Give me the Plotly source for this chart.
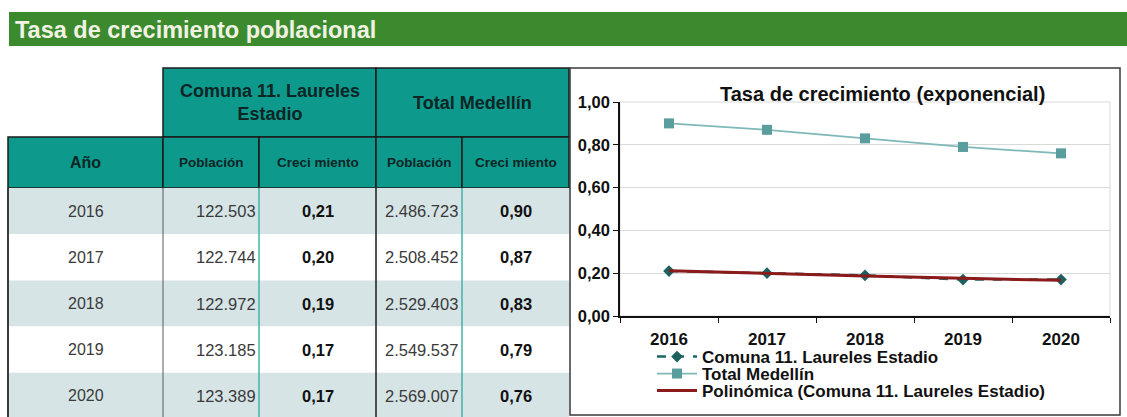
import plotly.graph_objects as go

# ---------------- data ----------------
years = ["2016", "2017", "2018", "2019", "2020"]
pob_comuna = [122503, 122744, 122972, 123185, 123389]
crec_comuna = [0.21, 0.20, 0.19, 0.17, 0.17]
pob_total = [2486723, 2508452, 2529403, 2549537, 2569007]
crec_total = [0.90, 0.87, 0.83, 0.79, 0.76]
poly_comuna = [0.211, 0.198, 0.187, 0.176, 0.167]  # trend line

page_title = "Tasa de crecimiento poblacional"
chart_title = "Tasa de crecimiento (exponencial)"
group_headers = ["Comuna 11. Laureles<br>Estadio", "Total Medellín"]
col_headers = ["Año", "Población", "Creci miento", "Población", "Creci miento"]
series_names = ["Comuna 11. Laureles Estadio", "Total Medellín",
                "Polinómica (Comuna 11. Laureles Estadio)"]

# ---------------- layout helpers ----------------
W, H = 1127, 417
FONT = "Liberation Sans, Arial, sans-serif"


def px(x):
    return x / W


def py(y):
    return 1 - y / H


def fmt_int(v):
    return f"{v:,}".replace(",", ".")


def fmt_dec(v):
    return f"{v:.2f}".replace(".", ",")


shapes = []
annotations = []


def rect(x0, y0, x1, y1, fill=None, line=None, lw=0):
    shapes.append(dict(type="rect", xref="paper", yref="paper",
                       x0=px(x0), x1=px(x1), y0=py(y1), y1=py(y0),
                       fillcolor=fill if fill else "rgba(0,0,0,0)",
                       line=dict(color=line if line else "rgba(0,0,0,0)", width=lw),
                       layer="below"))


def vline(x, y0, y1, color, lw):
    shapes.append(dict(type="line", xref="paper", yref="paper",
                       x0=px(x), x1=px(x), y0=py(y0), y1=py(y1),
                       line=dict(color=color, width=lw), layer="above"))


def text(x, y, s, size, bold=False, color="#222", xanchor="center"):
    annotations.append(dict(xref="paper", yref="paper", x=px(x), y=py(y),
                            text=s, showarrow=False, xanchor=xanchor, yanchor="middle",
                            font=dict(family=FONT, size=size, color=color,
                                      weight="bold" if bold else "normal")))


# ---------------- green page header ----------------
rect(9, 12, 1127, 46, fill="#3b8b2e")
text(13, 29.5, page_title, 23.5, bold=True, color="#f2f2e4", xanchor="left")

# ---------------- table ----------------
TEAL = "#0d998c"
HDR_TXT = "#0e2525"
col_x = [8, 163, 259, 376, 462, 569]
hdr1 = (68, 137)
hdr2 = (137, 188)
row_top = 188
row_h = 46.2

# header row 1 (merged groups)
rect(163, hdr1[0], 376, hdr1[1], fill=TEAL, line="#1b1b1b", lw=1.5)
rect(376, hdr1[0], 569, hdr1[1], fill=TEAL, line="#1b1b1b", lw=1.5)
text((163 + 376) / 2, (hdr1[0] + hdr1[1]) / 2, group_headers[0], 18, bold=True, color=HDR_TXT)
text((376 + 569) / 2, (hdr1[0] + hdr1[1]) / 2, group_headers[1], 18, bold=True, color=HDR_TXT)

# header row 2
for i, h in enumerate(col_headers):
    rect(col_x[i], hdr2[0], col_x[i + 1], hdr2[1], fill=TEAL, line="#1b1b1b", lw=1.5)
    text((col_x[i] + col_x[i + 1]) / 2, (hdr2[0] + hdr2[1]) / 2, h,
         16 if i == 0 else 13.5, bold=True, color=HDR_TXT)

# data rows
for r, yr in enumerate(years):
    y0 = row_top + r * row_h
    y1 = y0 + row_h
    yc = (y0 + y1) / 2
    fill = "#d6e4e6" if r % 2 == 0 else "#ffffff"
    rect(col_x[0], y0, col_x[-1], y1, fill=fill)
    text((col_x[0] + col_x[1]) / 2, yc, yr, 16, color="#3a3a3a")
    text(col_x[2] - 1, yc, fmt_int(pob_comuna[r]), 16.5, color="#3a3a3a", xanchor="right")
    text((col_x[2] + col_x[3]) / 2, yc, fmt_dec(crec_comuna[r]), 16.5, bold=True, color="#111111")
    text(col_x[4] - 2, yc, fmt_int(pob_total[r]), 16.5, color="#3a3a3a", xanchor="right")
    text((col_x[4] + col_x[5]) / 2, yc, fmt_dec(crec_total[r]), 16.5, bold=True, color="#111111")

table_bottom = row_top + len(years) * row_h
vline(col_x[0], row_top, table_bottom, "#3a3a3a", 2)
vline(col_x[1], row_top, table_bottom, "#5a5a5a", 1)
vline(col_x[2], row_top, table_bottom, "#3fb5a8", 1.5)
vline(col_x[3], row_top, table_bottom, "#1b1b1b", 1.5)
vline(col_x[4], row_top, table_bottom, "#3fb5a8", 1.5)

# ---------------- chart box ----------------
rect(570, 68, 1120, 415, fill="#ffffff", line="#3a3a3a", lw=1.5)
# light plot-area frame (top / right)
shapes.append(dict(type="rect", xref="paper", yref="paper",
                   x0=px(620), x1=px(1110), y0=py(316), y1=py(102),
                   line=dict(color="#d9d9d9", width=1), layer="below"))
text(882, 94, chart_title, 20, bold=True, color="#111111")

fig = go.Figure()
fig.add_trace(go.Scatter(
    x=years, y=crec_comuna, name=series_names[0], mode="lines+markers",
    line=dict(color="#1d6565", width=2.5, dash="dash"),
    marker=dict(symbol="diamond", size=9, color="#1d6060"),
    legend="legend"))
fig.add_trace(go.Scatter(
    x=years, y=crec_total, name=series_names[1], mode="lines+markers",
    line=dict(color="#7fb8b8", width=1.8),
    marker=dict(symbol="square", size=10, color="#5a9d9e"),
    legend="legend2"))
fig.add_trace(go.Scatter(
    x=years, y=poly_comuna, name=series_names[2], mode="lines",
    line=dict(color="#8b1a1a", width=3),
    legend="legend3"))

legend_font = dict(family=FONT, size=17, color="#111111", weight="bold")
legend_rows = [357, 374, 391]


def legend_at(yrow):
    return dict(x=px(652), y=py(yrow), xanchor="left", yanchor="middle",
                bgcolor="rgba(0,0,0,0)", font=legend_font, itemwidth=40,
                borderwidth=0)


fig.update_layout(
    width=W, height=H,
    margin=dict(l=0, r=0, t=0, b=0, autoexpand=False),
    paper_bgcolor="#ffffff", plot_bgcolor="rgba(0,0,0,0)",
    separators=",.",
    font=dict(family=FONT, color="#111111"),
    shapes=shapes, annotations=annotations,
    showlegend=True,
    legend=legend_at(legend_rows[0]),
    legend2=legend_at(legend_rows[1]),
    legend3=legend_at(legend_rows[2]),
    xaxis=dict(domain=[px(620), px(1110)], type="category",
               range=[-0.5, len(years) - 0.5],
               showline=True, linecolor="#111111", linewidth=1.5,
               ticks="outside", tickson="boundaries", ticklen=5, tickcolor="#111111",
               ticklabelstandoff=7,
               showgrid=False, zeroline=False,
               tickfont=dict(family=FONT, size=17, color="#111111", weight="bold")),
    yaxis=dict(domain=[py(316), py(102)], range=[0, 1.0],
               tickvals=[0, 0.2, 0.4, 0.6, 0.8, 1.0], tickformat=".2f",
               showline=True, linecolor="#111111", linewidth=1.5,
               ticks="outside", ticklen=5, tickcolor="#111111",
               showgrid=True, gridcolor="#d9d9d9", gridwidth=1, zeroline=False,
               tickfont=dict(family=FONT, size=16.5, color="#111111", weight="bold")),
)

fig.write_html("out.html", config={"displayModeBar": False},
               post_script="document.body.style.margin='0';")
